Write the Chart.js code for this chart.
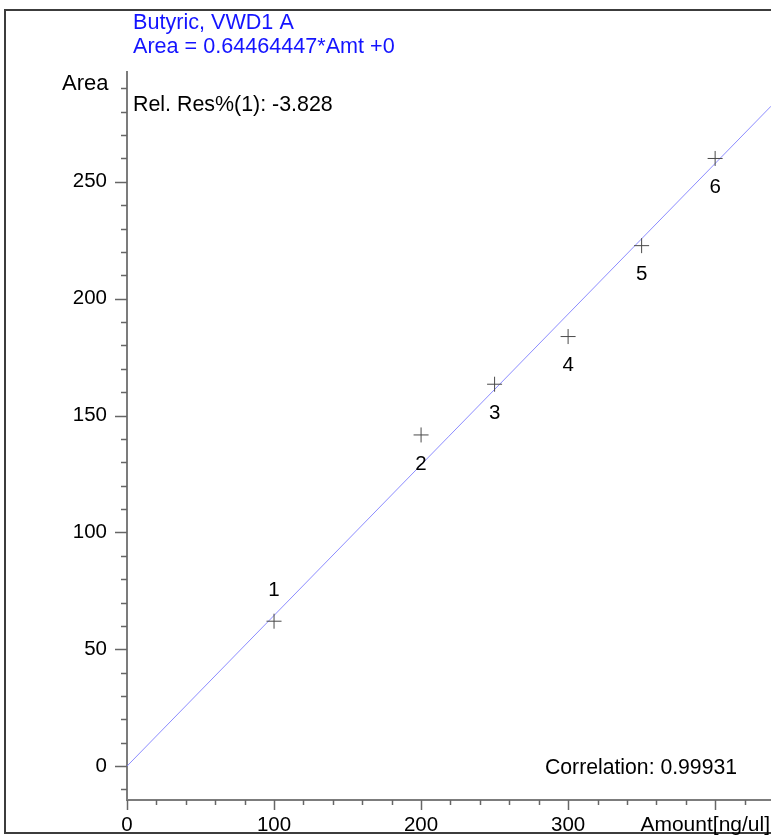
<!DOCTYPE html>
<html>
<head>
<meta charset="utf-8">
<script src="https://cdn.jsdelivr.net/npm/chart.js@4/dist/chart.umd.min.js"></script>
<style>
  html, body { margin: 0; padding: 0; background: #ffffff; overflow: hidden; }
  #wrap { position: relative; width: 771px; height: 837px; }
  #calib { display: block; }
</style>
</head>
<body>
<div id="wrap"><canvas id="calib" width="771" height="837"></canvas></div>
<script>
// Calibration levels: amount injected and measured peak area
const levelNames = ['1', '2', '3', '4', '5', '6'];
const amounts = [100, 200, 250, 300, 350, 400];
const areas = [62.0, 141.7, 163.4, 183.8, 222.7, 260.0];
const labelAbove = [true, false, false, false, false, false];

// Fitted calibration curve: Area = slope * Amt + intercept
const slope = 0.64464447;
const intercept = 0;

// Axis ranges and tick values
const xRange = [0, 438];
const yRange = [-14.5, 297];
const xTickValues = [0, 100, 200, 300];
const yTickValues = [0, 50, 100, 150, 200, 250];
const xMinorStep = 20, xMajorStep = 100;
const yMinorStep = 10, yMajorStep = 50;

const FONT = '"Liberation Sans", Arial, Helvetica, sans-serif';
const AXIS_GRAY = '#7c7c7c';

const fitLine = xRange.map(x => ({ x: x, y: slope * x + intercept }));
const points = amounts.map((a, i) => ({ x: a, y: areas[i] }));

const decorations = {
  id: 'decorations',
  afterDraw(chart) {
    const ctx = chart.ctx;
    const xs = chart.scales.x, ys = chart.scales.y;
    const area = chart.chartArea;
    ctx.save();

    // tick marks (major longer, minor shorter)
    ctx.strokeStyle = '#666666';
    ctx.lineWidth = 1.5;
    for (let v = Math.ceil(yRange[0] / yMinorStep) * yMinorStep; v <= yRange[1]; v += yMinorStep) {
      const py = Math.round(ys.getPixelForValue(v)) + 0.5;
      const len = (v % yMajorStep === 0) ? 12 : 6;
      ctx.beginPath();
      ctx.moveTo(area.left - len, py);
      ctx.lineTo(area.left, py);
      ctx.stroke();
    }
    for (let v = 0; v <= xRange[1]; v += xMinorStep) {
      const px = Math.round(xs.getPixelForValue(v)) + 0.5;
      const len = (v % xMajorStep === 0) ? 10 : 5;
      ctx.beginPath();
      ctx.moveTo(px, area.bottom);
      ctx.lineTo(px, area.bottom + len);
      ctx.stroke();
    }

    // outer frame
    ctx.strokeStyle = '#3c3c3c';
    ctx.lineWidth = 2;
    ctx.strokeRect(5, 10, 900, 823);

    // header text
    ctx.textBaseline = 'alphabetic';
    ctx.textAlign = 'left';
    ctx.font = '21.6px ' + FONT;
    ctx.fillStyle = '#1414ff';
    ctx.fillText('Butyric, VWD1 A', 133, 29);
    ctx.fillText('Area = ' + slope.toFixed(8) + '*Amt +' + intercept, 133, 53);

    ctx.fillStyle = '#000000';
    ctx.font = '22px ' + FONT;
    ctx.fillText('Area', 62, 90);
    ctx.font = '21.4px ' + FONT;
    ctx.fillText('Rel. Res%(1): -3.828', 133, 111);
    ctx.font = '21.2px ' + FONT;
    ctx.fillText('Correlation: 0.99931', 545, 774);
    ctx.textAlign = 'right';
    ctx.font = '21px ' + FONT;
    ctx.fillText('Amount[ng/ul]', 770, 831);

    // level numbers next to each calibration point
    ctx.font = '20.5px ' + FONT;
    ctx.textAlign = 'center';
    ctx.textBaseline = 'middle';
    const meta = chart.getDatasetMeta(0);
    meta.data.forEach((el, i) => {
      const dy = labelAbove[i] ? -31 : 29;
      ctx.fillText(levelNames[i], el.x, el.y + dy);
    });

    ctx.restore();
  }
};

Chart.defaults.font.family = FONT;

new Chart(document.getElementById('calib'), {
  type: 'scatter',
  data: {
    datasets: [
      {
        data: points,
        pointStyle: 'cross',
        pointRadius: 7.5,
        pointBorderWidth: 1,
        borderColor: '#4a4a4a',
        backgroundColor: '#4a4a4a',
        showLine: false
      },
      {
        data: fitLine,
        showLine: true,
        pointRadius: 0,
        borderColor: 'rgba(120,120,255,0.85)',
        borderWidth: 1,
        fill: false
      }
    ]
  },
  options: {
    responsive: false,
    animation: false,
    events: [],
    layout: { autoPadding: false, padding: { top: 72, left: 0, right: 0, bottom: 0 } },
    plugins: {
      legend: { display: false },
      tooltip: { enabled: false },
      title: { display: false }
    },
    scales: {
      x: {
        type: 'linear',
        position: 'bottom',
        min: xRange[0],
        max: xRange[1],
        afterBuildTicks: s => { s.ticks = xTickValues.map(v => ({ value: v })); },
        afterFit: s => { s.height = 37; s.paddingLeft = 0; s.paddingRight = 0; },
        grid: { display: false, drawTicks: false },
        border: { display: true, color: AXIS_GRAY, width: 2 },
        ticks: {
          color: '#000000',
          font: { size: 20.5 },
          padding: 13,
          maxRotation: 0,
          autoSkip: false,
          callback: v => String(v)
        }
      },
      y: {
        type: 'linear',
        min: yRange[0],
        max: yRange[1],
        afterBuildTicks: s => { s.ticks = yTickValues.map(v => ({ value: v })); },
        afterFit: s => { s.width = 127; s.paddingTop = 0; s.paddingBottom = 0; },
        grid: { display: false, drawTicks: false },
        border: { display: true, color: AXIS_GRAY, width: 2 },
        ticks: {
          color: '#000000',
          font: { size: 20.5 },
          padding: 20,
          autoSkip: false,
          callback: v => String(v)
        }
      }
    }
  },
  plugins: [decorations]
});
</script>
</body>
</html>
